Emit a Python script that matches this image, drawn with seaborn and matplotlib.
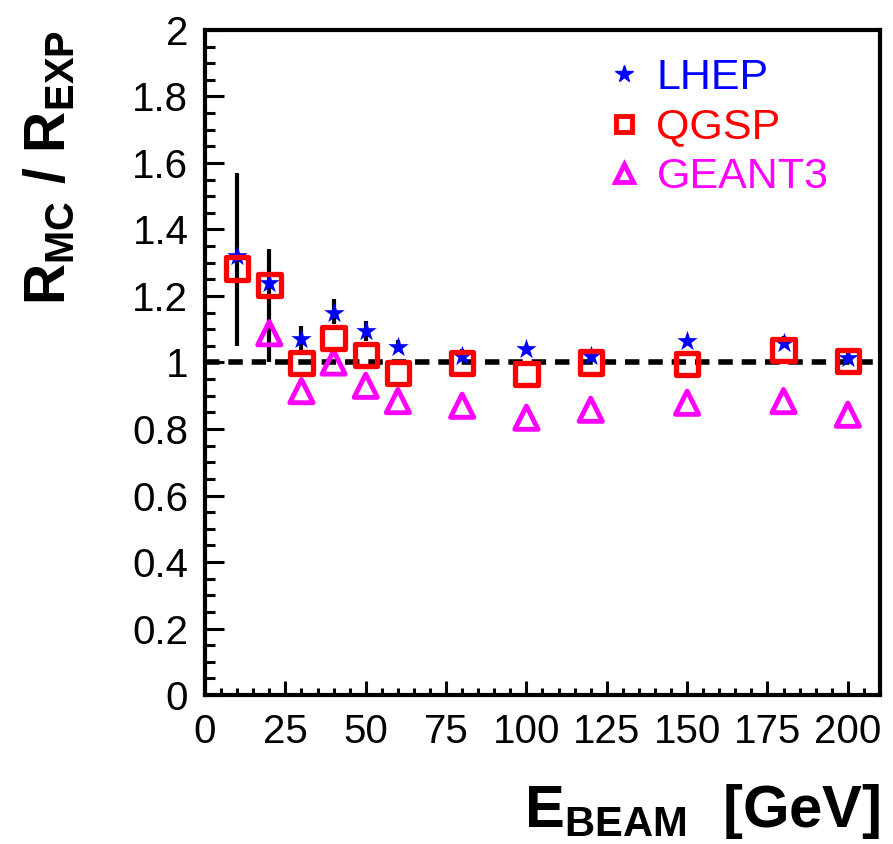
import matplotlib
matplotlib.use("Agg")
import matplotlib.pyplot as plt
import seaborn as sns
import numpy as np
import pandas as pd
from matplotlib.lines import Line2D
from matplotlib.ticker import MultipleLocator, FixedLocator

# ---- data ----
energy = [10, 20, 30, 40, 50, 60, 80, 100, 120, 150, 180, 200]
lhep = [1.32, 1.24, 1.07, 1.15, 1.095, 1.047, 1.02, 1.04, 1.02, 1.065, 1.06, 1.013]
lhep_err_lo = [0.27, 0.24, 0.035, 0.035, 0.03, 0.01, 0.015, 0.01, 0.015, 0.01, 0.01, 0.015]
lhep_err_hi = [0.25, 0.10, 0.04, 0.04, 0.03, 0.02, 0.02, 0.01, 0.02, 0.01, 0.02, 0.02]
qgsp = [1.283, 1.233, 0.998, 1.073, 1.023, 0.968, 0.998, 0.966, 1.0, 0.996, 1.038, 1.004]
geant3_energy = [20, 30, 40, 50, 60, 80, 100, 120, 150, 180, 200]
geant3 = [1.088, 0.914, 1.0, 0.93, 0.884, 0.87, 0.834, 0.858, 0.879, 0.884, 0.843]
xticks = [0, 25, 50, 75, 100, 125, 150, 175, 200]
yticks = [0, 0.2, 0.4, 0.6, 0.8, 1, 1.2, 1.4, 1.6, 1.8, 2]
ytick_labels = ["0", "0.2", "0.4", "0.6", "0.8", "1", "1.2", "1.4", "1.6", "1.8", "2"]

sns.set_theme(style="white")
plt.rcParams["font.family"] = ["Liberation Sans", "DejaVu Sans"]
plt.rcParams["mathtext.fontset"] = "custom"
plt.rcParams["mathtext.rm"] = "Liberation Sans"
plt.rcParams["mathtext.bf"] = "Liberation Sans:bold"
plt.rcParams["mathtext.it"] = "Liberation Sans:italic"
plt.rcParams["text.color"] = "black"
plt.rcParams["axes.labelcolor"] = "black"
plt.rcParams["xtick.color"] = "black"
plt.rcParams["ytick.color"] = "black"

fig = plt.figure(figsize=(8.93, 8.44), dpi=100)
ax = fig.add_axes([0.2296, 0.1765, 0.7558, 0.7880])

df_l = pd.DataFrame({"E": energy, "R": lhep})
df_q = pd.DataFrame({"E": energy, "R": qgsp})
df_g = pd.DataFrame({"E": geant3_energy, "R": geant3})

# reference line
ax.axhline(1.0, color="black", lw=4, ls=(0, (2.6, 1.6)), zorder=1)

# error bars
ax.errorbar(energy, lhep, yerr=[lhep_err_lo, lhep_err_hi], fmt="none",
            ecolor="black", elinewidth=3, capsize=0, zorder=2)

sns.scatterplot(data=df_g, x="E", y="R", marker="^", s=280, color="magenta",
                linewidth=3.5, ax=ax, zorder=3)
sns.scatterplot(data=df_l, x="E", y="R", marker="*", s=240, color="blue",
                linewidth=0, ax=ax, zorder=4)
sns.scatterplot(data=df_q, x="E", y="R", marker="s", s=260, color="red",
                linewidth=3.8, ax=ax, zorder=5)

# make squares and triangles open
for c, col in zip(ax.collections[-3:], ["magenta", "blue", "red"]):
    if col != "blue":
        c.set_facecolor("none")
        c.set_edgecolor(col)

ax.set_xlim(0, 210)
ax.set_ylim(0, 2)
ax.xaxis.set_major_locator(FixedLocator(xticks))
ax.xaxis.set_minor_locator(MultipleLocator(5))
ax.yaxis.set_major_locator(FixedLocator(yticks))
ax.set_yticklabels(ytick_labels)
ax.yaxis.set_minor_locator(MultipleLocator(0.05))
ax.tick_params(axis="both", which="both", direction="in", color="black",
               labelcolor="black", width=2.2, labelsize=29,
               bottom=True, left=True, top=False, right=False)
ax.tick_params(axis="y", which="major", length=14, pad=12)
ax.tick_params(axis="y", which="minor", length=7)
ax.tick_params(axis="x", which="major", length=10, pad=13)
ax.tick_params(axis="x", which="minor", length=5)
for s in ax.spines.values():
    s.set_color("black")
    s.set_linewidth(3)

ax.set_xlabel(r"$\mathbf{E_{BEAM}}$  $\mathbf{[GeV]}$", fontsize=43, loc="right",
              labelpad=22, color="black")
ax.set_ylabel(r"$\mathbf{R_{MC}\ /\ R_{EXP}}$", fontsize=41, loc="top",
              labelpad=40, color="black")

handles = [
    Line2D([], [], ls="", marker="*", ms=13, color="blue", mec="blue"),
    Line2D([], [], ls="", marker="s", ms=12, mfc="none", mec="red", mew=3.5),
    Line2D([], [], ls="", marker="^", ms=13, mfc="none", mec="magenta", mew=3.5),
]
leg = ax.legend(handles, ["LHEP", "QGSP", "GEANT3"], loc="upper left",
                bbox_to_anchor=(0.57, 0.99), frameon=False, fontsize=31,
                handlelength=0.6, handletextpad=0.45, labelspacing=0.22, borderpad=0)
for t, col in zip(leg.get_texts(), ["blue", "red", "magenta"]):
    t.set_color(col)

fig.savefig("out.png", dpi=100)
